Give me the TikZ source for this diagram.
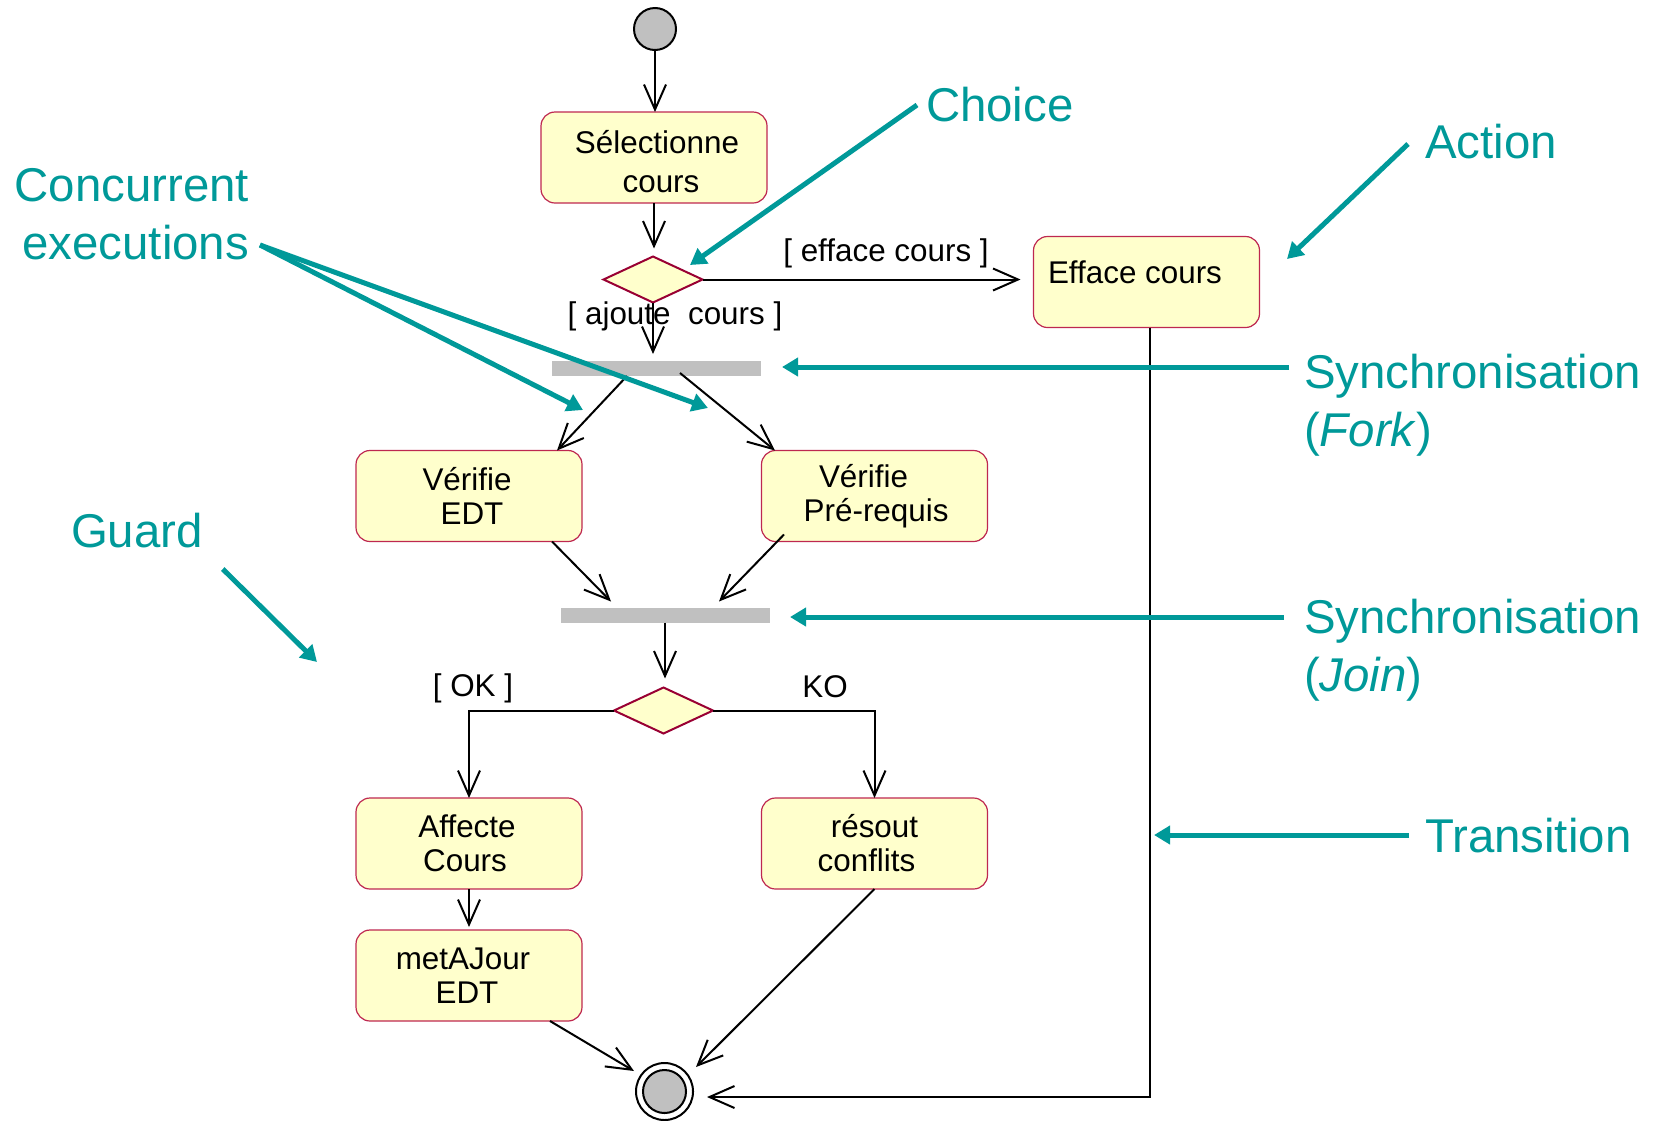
\documentclass[tikz,border=0pt]{standalone}
\usepackage{fontspec}
\setmainfont{Liberation Sans}
\usetikzlibrary{arrows.meta,shapes.geometric}
\definecolor{actfill}{RGB}{255,255,204}
\definecolor{actline}{RGB}{190,40,80}
\definecolor{decline}{RGB}{153,0,51}
\definecolor{barfill}{RGB}{192,192,192}
\definecolor{note}{RGB}{0,153,153}
% move one centred line sideways by #1 (in pt) without changing its width
\newcommand\shiftln[2]{\hspace*{#1pt}#2\hspace*{-#1pt}}

\begin{document}
\begin{tikzpicture}[x=0.5pt,y=-0.5pt,
  every node/.style={inner sep=0pt, outer sep=0pt},
  actbox/.style={draw=actline, line width=0.6pt, fill=actfill, rounded corners=7pt,
    minimum width=113pt, minimum height=45.5pt, align=center,
    font=\fontsize{15.7}{17}\selectfont},
  decision/.style={diamond, draw=decline, line width=1pt, fill=actfill,
    minimum width=49.5pt, minimum height=23pt},
  syncbar/.style={fill=barfill, minimum width=104.5pt, minimum height=7.5pt},
  dot/.style={circle, draw=black, line width=1pt},
  conn/.style={draw=black, line width=1pt, -{Straight Barb[length=12.5pt,width=11pt]}},
  guard/.style={font=\fontsize{15.7}{17}\selectfont},
  callout/.style={font=\fontsize{23.7}{29}\selectfont, text=note, align=left},
  pointer/.style={draw=note, line width=2.5pt, -{Triangle[length=8pt,width=9pt]}},
]
\useasboundingbox (0,0) rectangle (1657,1120);

% initial and final states
\node[dot, fill=barfill, minimum size=21pt] (start) at (655,29) {};
\node[dot, minimum size=28.5pt] (final) at (664.5,1091.5) {};
\node[dot, fill=barfill, minimum size=21.5pt] (finalcore) at (final) {};

% actions
\node[actbox, font=\fontsize{15.7}{19.25}\selectfont] (sel) at (654,157.5)
  {\rule{0pt}{15.75pt}\shiftln{1.5}{Sélectionne}\\\shiftln{3.5}{cours}};
\node[actbox] (efface) at (1146.5,282) {};
\node[guard, anchor=west] (effacetxt) at (1048,272) {Efface cours};
\node[actbox] (vedt) at (469,496) {\shiftln{-1}{Vérifie}\\\shiftln{1.5}{EDT}};
\node[actbox] (vpre) at (874.5,496) {\shiftln{-5.5}{Vérifie}\\\shiftln{0.8}{Pré-requis}};
\node[actbox] (aff) at (469,843.5) {\shiftln{-1}{Affecte}\\\shiftln{-2}{Cours}};
\node[actbox] (res) at (874.5,843.5) {résout\\\shiftln{-4}{conflits}};
\node[actbox] (maj) at (469,975.5) {\shiftln{-3}{metAJour}\\\shiftln{-1}{EDT}};

% decisions and synchronisation bars
\node[decision] (d1) at (653,279.5) {};
\node[decision] (d2) at (663.5,710.5) {};
\node[syncbar] (fork) at (656.5,368.5) {};
\node[syncbar] (join) at (665,615) {};

% transitions
\draw[conn] (start) -- (start |- sel.north);
\draw[conn, shorten >=4pt] (sel.south) -- (sel.south |- d1.north);
\draw[conn, shorten >=6.5pt] (d1.east) -- (d1.east -| efface.west);
\draw[conn, shorten >=3.5pt] (d1.south) -- (d1.south |- fork.north);
\draw[conn] ([xshift=-14.75pt]fork.south) -- ([xshift=44pt]vedt.north);
\draw[conn] ([xshift=11.75pt,yshift=1.5pt]fork.south) -- ([xshift=-49.75pt]vpre.north);
\draw[conn] ([xshift=41.5pt]vedt.south) -- ([xshift=-27pt,yshift=3pt]join.north);
\draw[conn] ([xshift=-45.25pt,yshift=3.5pt]vpre.south) -- ([xshift=27pt,yshift=3pt]join.north);
\draw[conn, shorten >=4.5pt] (join.south) -- (join.south |- d2.north);
\draw[conn] (d2.west) -| (aff.north);
\draw[conn] (d2.east) -| (res.north);
\draw[conn, shorten >=1.5pt] (aff.south) -- (maj.north);
\draw[conn] ([xshift=40.5pt]maj.south) -- ([shift={(-15.25pt,10.25pt)}]final.center);
\draw[conn] (res.south) -- ([shift={(15.75pt,12.25pt)}]final.center);
\draw[conn] ([xshift=1.5pt]efface.south) |- ([shift={(21.25pt,-2.75pt)}]final.center);

% guards
\node[guard] (geff) at (886,253) {[ efface cours ]};
\node[guard] (gaj) at (675,316) {[ ajoute\ \ cours ]};
\node[guard] (gok) at (473,688) {[ OK ]};
\node[guard] (gko) at (825,687) {KO};

% annotations
\node[callout, anchor=west] (choice) at (926,105) {Choice};
\node[callout, anchor=west] (action) at (1425,142) {Action};
\node[callout, anchor=east, align=right] (concur) at (249,214) {Concurrent\\executions};
\node[callout, anchor=west] (guardlbl) at (71,531) {Guard};
\node[callout, anchor=west] (forklbl) at (1304,405) {Synchronisation\\(\textit{Fork})};
\node[callout, anchor=west] (joinlbl) at (1304,650.5) {Synchronisation\\(\textit{Join})};
\node[callout, anchor=west] (translbl) at (1425,836) {Transition};

\coordinate (tchoice) at (690,265);
\coordinate (taction) at (1287,259);
\coordinate (tconcA) at (583,410);
\coordinate (tconcB) at (708,408);
\coordinate (tguard) at (317,662);
\coordinate (tfork) at (782,367);
\coordinate (tjoin) at (790,617);
\coordinate (ttrans) at (1154,835);

\draw[pointer] ([xshift=-4.5pt]choice.west) -- (tchoice);
\draw[pointer] ([shift={(-8.5pt,-1pt)}]action.west) -- (taction);
\draw[pointer] ([shift={(5.5pt,-15.5pt)}]concur.east) -- (tconcA);
\draw[pointer] ([shift={(5.5pt,-15.5pt)}]concur.east) -- (tconcB);
\draw[pointer] ([shift={(10pt,-19pt)}]guardlbl.east) -- (tguard);
\draw[pointer] ([shift={(-7.5pt,19pt)}]forklbl.west) -- (tfork);
\draw[pointer] ([shift={(-10pt,16.75pt)}]joinlbl.west) -- (tjoin);
\draw[pointer] ([shift={(-8pt,0.5pt)}]translbl.west) -- (ttrans);
\end{tikzpicture}
\end{document}
